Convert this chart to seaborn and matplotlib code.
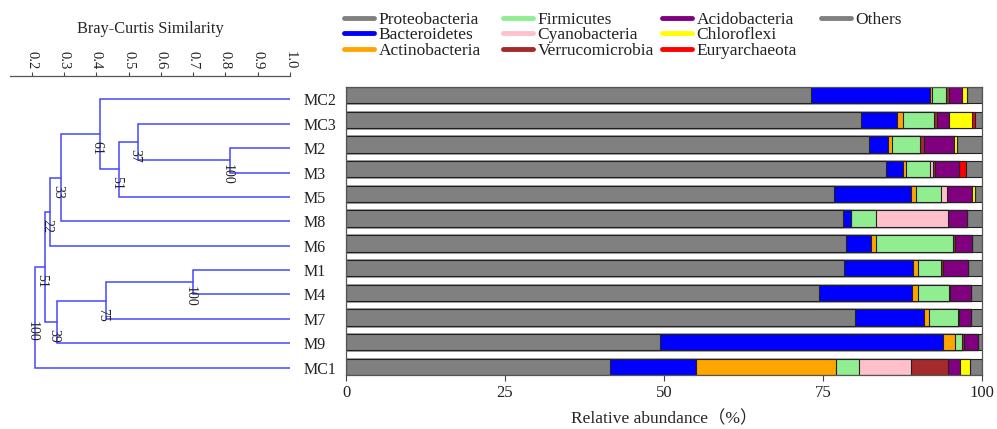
import numpy as np
import pandas as pd
import matplotlib
matplotlib.use('Agg')
import matplotlib.pyplot as plt
from matplotlib.lines import Line2D
import seaborn as sns

# samples, top to bottom (dendrogram leaf order)
samples = ['MC2', 'MC3', 'M2', 'M3', 'M5', 'M8', 'M6', 'M1', 'M4', 'M7', 'M9', 'MC1']

phyla = ['Proteobacteria', 'Bacteroidetes', 'Actinobacteria', 'Firmicutes', 'Cyanobacteria',
         'Verrucomicrobia', 'Acidobacteria', 'Chloroflexi', 'Euryarchaeota', 'Others']
colors = ['#808080', '#0000ff', '#ffa500', '#90ee90', '#ffc0cb',
          '#a52a2a', '#800080', '#ffff00', '#ff0000', '#808080']

# relative abundance (%), one value per sample
proteobacteria = [73.1, 81.0, 82.3, 84.9, 76.8, 78.2, 78.6, 78.3, 74.4, 80.0, 49.4, 41.5]
bacteroidetes = [18.8, 5.7, 2.9, 2.7, 12.0, 1.2, 3.9, 10.8, 14.6, 10.9, 44.5, 13.5]
actinobacteria = [0.3, 0.8, 0.6, 0.4, 0.8, 0.0, 0.8, 0.9, 1.0, 0.8, 1.9, 22.0]
firmicutes = [2.2, 4.9, 4.5, 3.9, 4.0, 3.9, 12.2, 3.6, 4.8, 4.5, 1.1, 3.7]
cyanobacteria = [0.0, 0.0, 0.0, 0.4, 0.9, 11.4, 0.0, 0.0, 0.0, 0.0, 0.0, 8.1]
verrucomicrobia = [0.4, 0.6, 0.6, 0.3, 0.0, 0.0, 0.2, 0.2, 0.2, 0.2, 0.2, 5.9]
acidobacteria = [2.1, 1.8, 4.7, 3.8, 3.9, 2.9, 2.8, 4.0, 3.3, 1.9, 2.2, 1.8]
chloroflexi = [0.7, 3.7, 0.5, 0.0, 0.5, 0.0, 0.0, 0.0, 0.0, 0.0, 0.0, 1.6]
euryarchaeota = [0.0, 0.4, 0.0, 1.1, 0.0, 0.0, 0.0, 0.0, 0.0, 0.0, 0.0, 0.0]
others = [2.4, 1.1, 3.9, 2.5, 1.1, 2.4, 1.5, 2.2, 1.7, 1.7, 0.7, 1.9]

# UPGMA tree (Bray-Curtis similarity) with bootstrap values; nK = K-th merge
merge_left = ['M2', 'MC3', 'n2', 'MC2', 'n4', 'n5', 'M1', 'n7', 'n8', 'n6', 'n10']
merge_right = ['M3', 'n1', 'M5', 'n3', 'M8', 'M6', 'M4', 'M7', 'M9', 'n9', 'MC1']
merge_sim = [0.814, 0.528, 0.471, 0.411, 0.291, 0.257, 0.700, 0.430, 0.279, 0.241, 0.210]
merge_boot = [100, 37, 51, 61, 33, 22, 100, 75, 39, 51, 100]

sim_ticks = [0.2, 0.3, 0.4, 0.5, 0.6, 0.7, 0.8, 0.9, 1.0]
pct_ticks = [0, 25, 50, 75, 100]

sns.set_style('ticks')
plt.rcParams['font.family'] = ['Liberation Serif', 'Noto Sans CJK SC']
plt.rcParams['text.color'] = '#222222'
plt.rcParams['xtick.color'] = '#444444'
plt.rcParams['ytick.color'] = '#444444'
plt.rcParams['xtick.labelcolor'] = '#222222'
plt.rcParams['ytick.labelcolor'] = '#222222'

df = pd.DataFrame({
    'Proteobacteria': proteobacteria, 'Bacteroidetes': bacteroidetes,
    'Actinobacteria': actinobacteria, 'Firmicutes': firmicutes,
    'Cyanobacteria': cyanobacteria, 'Verrucomicrobia': verrucomicrobia,
    'Acidobacteria': acidobacteria, 'Chloroflexi': chloroflexi,
    'Euryarchaeota': euryarchaeota, 'Others': others,
}, index=samples)
cum = df[phyla].cumsum(axis=1)
cum['sample'] = samples

fig = plt.figure(figsize=(9.97, 4.29), dpi=100)
W, H = 997, 429

# ---- dendrogram ----
ax_den = fig.add_axes([10 / W, 1 - 390 / H, 280 / W, 314 / H])
pos = {s: (1.0, i) for i, s in enumerate(samples)}
line_col = '#4646ff'
for k, (a, b, sim, boot) in enumerate(zip(merge_left, merge_right, merge_sim, merge_boot), start=1):
    xa, ya = pos[a]
    xb, yb = pos[b]
    ax_den.plot([xa, sim, sim, xb], [ya, ya, yb, yb], color=line_col, lw=1.1,
                solid_joinstyle='miter')
    ym = (ya + yb) / 2
    pos['n%d' % k] = (sim, ym)
    ax_den.text(sim - 0.009, ym + 0.57, str(boot), rotation=270,
                ha='center', va='center', fontsize=10)

ax_den.set_xlim(0.133, 1.0)
ax_den.set_ylim(11.914, -0.955)
ax_den.xaxis.tick_top()
ax_den.xaxis.set_label_position('top')
ax_den.set_xticks(sim_ticks)
ax_den.set_xticklabels(['%.1f' % t for t in sim_ticks], rotation=270, fontsize=10.5)
ax_den.tick_params(axis='x', length=3, width=0.8, pad=2)
ax_den.set_xlabel('Bray-Curtis Similarity', fontsize=11.8, labelpad=13)
ax_den.yaxis.tick_right()
ax_den.set_yticks(range(len(samples)))
ax_den.set_yticklabels(samples, fontsize=11.5)
ax_den.tick_params(axis='y', length=0, pad=9.5)
for s in ['left', 'right', 'bottom']:
    ax_den.spines[s].set_visible(False)
ax_den.spines['top'].set_color('#555555')
ax_den.spines['top'].set_linewidth(0.9)

# ---- stacked bars ----
ax_bar = fig.add_axes([346 / W, 1 - 375 / H, 636 / W, 288 / H])
for ph, col in zip(phyla[::-1], colors[::-1]):
    sns.barplot(data=cum, x=ph, y='sample', order=samples, orient='h', color=col,
                saturation=1, width=0.66, errorbar=None, edgecolor='#222222',
                linewidth=0.8, ax=ax_bar)

ax_bar.set_xlim(0, 100)
ax_bar.set_ylim(11.33, -0.33)
ax_bar.set_xticks(pct_ticks)
ax_bar.set_xticklabels([str(t) for t in pct_ticks], fontsize=12)
ax_bar.set_yticks([])
ax_bar.set_ylabel('')
ax_bar.set_xlabel('Relative abundance（%）', fontsize=12.5, labelpad=7)
ax_bar.tick_params(axis='x', length=4, width=0.8)
for s in ax_bar.spines.values():
    s.set_color('#555555')
    s.set_linewidth(0.9)

# legend: three entries per column, last column holds "Others" only
col_x = [344, 503, 662, 821]
for j, x0 in enumerate(col_x):
    idx = range(3 * j, min(3 * j + 3, len(phyla)))
    handles = [Line2D([0], [0], color=colors[i], lw=3.5) for i in idx]
    fig.legend(handles, [phyla[i] for i in idx], loc='upper left',
               bbox_to_anchor=(x0 / W, 1 - 12 / H), frameon=False, fontsize=12.5,
               handlelength=1.75, handletextpad=0.25, labelspacing=-0.05,
               borderpad=0, borderaxespad=0)

fig.savefig('out.png', dpi=100)
